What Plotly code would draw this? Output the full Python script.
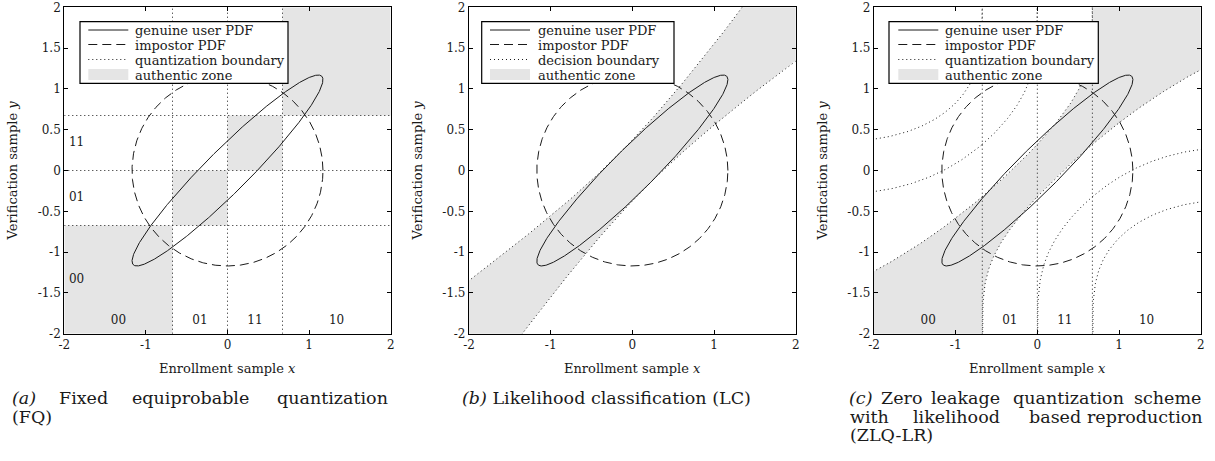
import numpy as np
import plotly.graph_objects as go

# ---------------- data / model parameters ----------------
rho = 0.95                      # correlation enrollment/verification (genuine)
contour_radius = 1.17           # Mahalanobis radius of the drawn PDF contours
q_bounds = [-0.674, 0.0, 0.674] # equiprobable quantization boundaries (4 intervals)
codes = ["00", "01", "11", "10"]
code_x = [-1.337, -0.337, 0.337, 1.337]
code_y_side = [-1.337, -0.337, 0.337]   # visible labels on y side of panel (a)
label_edge = -1.85
lc_halfwidth = 0.26             # half width of LC band at the origin (rotated coords)
x_ticks = [-2, -1, 0, 1, 2]
y_ticks = [-2, -1.5, -1, -0.5, 0, 0.5, 1, 1.5, 2]
legend_names_a = ["genuine user PDF", "impostor PDF", "quantization boundary", "authentic zone"]
legend_names_b = ["genuine user PDF", "impostor PDF", "decision boundary", "authentic zone"]
legend_names_c = ["genuine user PDF", "impostor PDF", "quantization boundary", "authentic zone"]

FONT = "DejaVu Serif"
GRAY = "#e5e5e5"
INK = "#1a1a1a"
DOT = "1px,3px"
DASH = "9px,5px"
W, H = 1215, 461


def norm_ppf(p):
    p = np.asarray(p, float)
    a = [-3.969683028665376e+01, 2.209460984245205e+02, -2.759285104469687e+02,
         1.383577518672690e+02, -3.066479806614716e+01, 2.506628277459239e+00]
    b = [-5.447609879822406e+01, 1.615858368580409e+02, -1.556989798598866e+02,
         6.680131188771972e+01, -1.328068155288572e+01]
    c = [-7.784894002430293e-03, -3.223964580411365e-01, -2.400758277161838e+00,
         -2.549671660502439e+00, 4.374664141464968e+00, 2.938163982698783e+00]
    d = [7.784695709041462e-03, 3.224671290700398e-01, 2.445134137142996e+00,
         3.754408661907416e+00]
    plow = 0.02425
    out = np.empty_like(p)
    lo = p < plow
    hi = p > 1 - plow
    mid = ~(lo | hi)
    q = np.sqrt(-2 * np.log(p[lo]))
    out[lo] = (((((c[0]*q+c[1])*q+c[2])*q+c[3])*q+c[4])*q+c[5]) / ((((d[0]*q+d[1])*q+d[2])*q+d[3])*q+1)
    q = p[mid] - 0.5
    r = q * q
    out[mid] = (((((a[0]*r+a[1])*r+a[2])*r+a[3])*r+a[4])*r+a[5])*q / (((((b[0]*r+b[1])*r+b[2])*r+b[3])*r+b[4])*r+1)
    q = np.sqrt(-2 * np.log(1 - p[hi]))
    out[hi] = -(((((c[0]*q+c[1])*q+c[2])*q+c[3])*q+c[4])*q+c[5]) / ((((d[0]*q+d[1])*q+d[2])*q+d[3])*q+1)
    return out


# contours of the two PDFs
t = np.linspace(0, 2 * np.pi, 721)
u_e = contour_radius * np.sqrt(1 + rho) * np.cos(t)
v_e = contour_radius * np.sqrt(1 - rho) * np.sin(t)
ell_x = (u_e - v_e) / np.sqrt(2)
ell_y = (u_e + v_e) / np.sqrt(2)
circ_x = contour_radius * np.cos(t)
circ_y = contour_radius * np.sin(t)

fig = go.Figure()
plot_px = [(64.3, 390.7), (469.0, 795.7), (874.0, 1200.7)]
ytop, ybot = 7.3, 333.7


def ax(k):
    return ("x", "y") if k == 1 else (f"x{k}", f"y{k}")


def add_common(k, names):
    xa, ya = ax(k)
    fig.add_trace(go.Scatter(x=ell_x, y=ell_y, mode="lines", xaxis=xa, yaxis=ya,
                             line=dict(color=INK, width=1), name=names[0], showlegend=False))
    fig.add_trace(go.Scatter(x=circ_x, y=circ_y, mode="lines", xaxis=xa, yaxis=ya,
                             line=dict(color=INK, width=1, dash=DASH), name=names[1],
                             showlegend=False))


def add_codes(k, side=False):
    xa, ya = ax(k)
    fig.add_trace(go.Scatter(x=code_x, y=[label_edge] * 4, text=codes, mode="text",
                             xaxis=xa, yaxis=ya, showlegend=False, hoverinfo="skip",
                             textfont=dict(family=FONT, size=12, color=INK)))
    if side:
        fig.add_trace(go.Scatter(x=[label_edge] * 3, y=code_y_side, text=codes[:3], mode="text",
                                 xaxis=xa, yaxis=ya, showlegend=False, hoverinfo="skip",
                                 textfont=dict(family=FONT, size=12, color=INK)))


# ---------------- panel (a): FQ ----------------
edges = [-2.0] + q_bounds + [2.0]
sq_x, sq_y = [], []
for j in range(4):
    a0, a1 = edges[j], edges[j + 1]
    sq_x += [a0, a1, a1, a0, a0, None]
    sq_y += [a0, a0, a1, a1, a0, None]
fig.add_trace(go.Scatter(x=sq_x, y=sq_y, mode="lines", fill="toself", fillcolor=GRAY,
                         line=dict(width=0, color=GRAY), name=legend_names_a[3],
                         showlegend=False, xaxis="x", yaxis="y"))
bx, by = [], []
for q in q_bounds:
    bx += [q, q, None, -2, 2, None]
    by += [-2, 2, None, q, q, None]
fig.add_trace(go.Scatter(x=bx, y=by, mode="lines", line=dict(color=INK, width=1, dash=DOT),
                         name=legend_names_a[2], showlegend=False, xaxis="x", yaxis="y"))
add_common(1, legend_names_a)
add_codes(1, side=True)

# ---------------- panel (b): LC ----------------
kk = (1 - rho) / (1 + rho)
u = np.linspace(-5, 5, 401)
v = np.sqrt(lc_halfwidth ** 2 + kk * u ** 2)
up_x, up_y = (u - v) / np.sqrt(2), (u + v) / np.sqrt(2)
lo_x, lo_y = (u + v) / np.sqrt(2), (u - v) / np.sqrt(2)
fig.add_trace(go.Scatter(x=np.concatenate([up_x, lo_x[::-1]]), y=np.concatenate([up_y, lo_y[::-1]]),
                         mode="lines", fill="toself", fillcolor=GRAY, line=dict(width=0, color=GRAY),
                         name=legend_names_b[3], showlegend=False, xaxis="x2", yaxis="y2"))
fig.add_trace(go.Scatter(x=list(up_x) + [None] + list(lo_x), y=list(up_y) + [None] + list(lo_y),
                         mode="lines", line=dict(color=INK, width=1, dash=DOT),
                         name=legend_names_b[2], showlegend=False, xaxis="x2", yaxis="y2"))
add_common(2, legend_names_b)

# ---------------- panel (c): ZLQ-LR ----------------
w = np.concatenate([np.geomspace(1e-7, 1e-2, 80), np.linspace(0.01, 0.99, 200)[1:-1],
                    1 - np.geomspace(1e-2, 1e-7, 80)])
n_int = len(q_bounds) + 1
gx, gy, cx, cy = [], [], [], []
for j in range(n_int):
    xs = norm_ppf((j + w) / n_int)
    pts = [norm_ppf((m + w) / n_int) for m in range(n_int)]
    bnd = [np.clip(rho * (pts[m] + pts[m + 1]) / 2, -10, 10) for m in range(n_int - 1)]
    lower = bnd[j - 1] if j > 0 else np.full_like(xs, -10)
    upper = bnd[j] if j < n_int - 1 else np.full_like(xs, 10)
    gx += list(xs) + list(xs[::-1]) + [None]
    gy += list(upper) + list(lower[::-1]) + [None]
    for m in range(n_int - 1):
        cx += list(xs) + [None]
        cy += list(bnd[m]) + [None]
for q in q_bounds:
    cx += [q, q, None]
    cy += [-2, 2, None]
fig.add_trace(go.Scatter(x=gx, y=gy, mode="lines", fill="toself", fillcolor=GRAY,
                         line=dict(width=0, color=GRAY), name=legend_names_c[3],
                         showlegend=False, xaxis="x3", yaxis="y3"))
fig.add_trace(go.Scatter(x=cx, y=cy, mode="lines", line=dict(color=INK, width=1, dash=DOT),
                         name=legend_names_c[2], showlegend=False, xaxis="x3", yaxis="y3"))
add_common(3, legend_names_c)
add_codes(3)

# ---------------- layout ----------------
axis_common = dict(range=[-2, 2], showline=True, linecolor="black", linewidth=1.2, mirror="ticks",
                   ticks="inside", ticklen=4, tickcolor="black", tickwidth=1, showgrid=False,
                   zeroline=False, automargin=False,
                   tickfont=dict(family=FONT, size=12, color=INK), fixedrange=True)
ydom = [1 - ybot / H, 1 - ytop / H]
layout = dict(width=W, height=H, margin=dict(l=0, r=0, t=0, b=0, autoexpand=False),
              paper_bgcolor="white", plot_bgcolor="white", showlegend=False)
for k, (l, r) in enumerate(plot_px, start=1):
    xk = "xaxis" if k == 1 else f"xaxis{k}"
    yk = "yaxis" if k == 1 else f"yaxis{k}"
    layout[xk] = dict(axis_common, domain=[l / W, r / W], tickvals=x_ticks,
                      ticktext=[str(v) for v in x_ticks], anchor="y" if k == 1 else f"y{k}")
    layout[yk] = dict(axis_common, domain=ydom, tickvals=y_ticks,
                      ticktext=[("%g" % v) for v in y_ticks], anchor="x" if k == 1 else f"x{k}")
fig.update_layout(**layout)

ann = []
shapes = []


def px(x):
    return x / W


def py(y):
    return 1 - y / H


def txt(x, y, s, size=12, xanchor="center", angle=0):
    ann.append(dict(x=px(x), y=py(y), xref="paper", yref="paper", text=s, showarrow=False,
                    xanchor=xanchor, yanchor="middle", textangle=angle,
                    font=dict(family=FONT, size=size, color=INK)))


# legends (box, samples, labels)
legend_boxes = [(80.0, 288.0, 88.3, 133.0), (481.7, 674.0, 490.0, 536.0), (889.0, 1098.3, 898.3, 943.3)]
entry_y = [30.0, 44.5, 59.5, 74.5]
for (bl, br, sl, tx), names in zip(legend_boxes, [legend_names_a, legend_names_b, legend_names_c]):
    shapes.append(dict(type="rect", xref="paper", yref="paper", x0=px(bl), x1=px(br),
                       y0=py(83.3), y1=py(21.7), fillcolor="white",
                       line=dict(color="black", width=1.2)))
    for ey, dash in zip(entry_y[:3], ["solid", DASH, DOT]):
        shapes.append(dict(type="line", xref="paper", yref="paper", x0=px(sl), x1=px(sl + 40),
                           y0=py(ey), y1=py(ey), line=dict(color=INK, width=1, dash=dash)))
    shapes.append(dict(type="rect", xref="paper", yref="paper", x0=px(sl), x1=px(sl + 40),
                       y0=py(80), y1=py(69), fillcolor=GRAY, line=dict(width=0)))
    for ey, name in zip(entry_y, names):
        txt(tx, ey + 0.5, name, 13, "left")

for (l, r), yx in zip(plot_px, [12, 417, 822]):
    txt((l + r) / 2, 368, "Enrollment sample <i>x</i>", 13)
    txt(yx, (ytop + ybot) / 2, "Verification sample <i>y</i>", 13, angle=-90)

CS = 17.5
L1, L2, L3 = 398, 416.5, 435
# caption (a) - justified line
txt(24, L1, "<i>(a)</i>", CS)
txt(83.5, L1, "Fixed", CS)
txt(190.5, L1, "equiprobable", CS)
txt(332, L1, "quantization", CS)
txt(10, L2, "(FQ)", CS, "left")
# caption (b)
txt(606.5, L1, "<i>(b)</i> Likelihood classification (LC)", CS)
# caption (c)
txt(860.5, L1, "<i>(c)</i>", CS)
txt(901, L1, "Zero", CS)
txt(965, L1, "leakage", CS)
txt(1068, L1, "quantization", CS)
txt(1167.5, L1, "scheme", CS)
txt(869, L2, "with", CS)
txt(956, L2, "likelihood", CS)
txt(1055, L2, "based", CS)
txt(1145, L2, "reproduction", CS)
txt(848, L3, "(ZLQ-LR)", CS, "left")
fig.update_layout(annotations=ann, shapes=shapes)

fig.write_html("out.html", config={"displayModeBar": False},
               post_script="document.body.style.margin='0px';")
